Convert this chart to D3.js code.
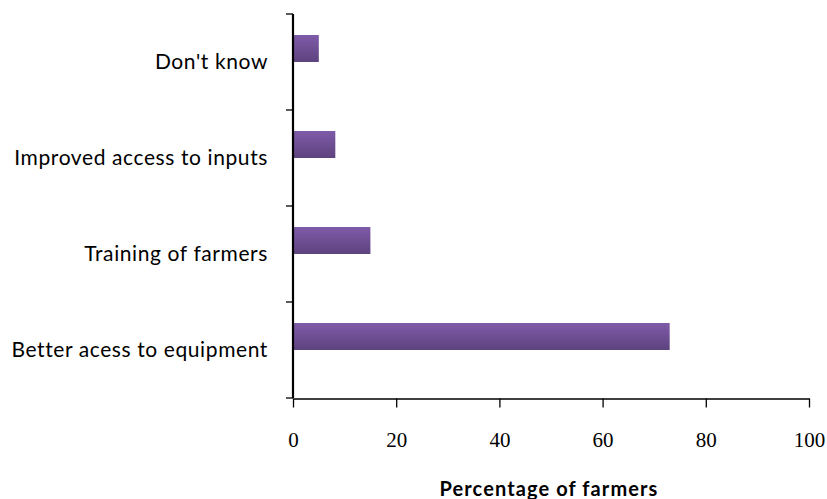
<!DOCTYPE html>
<html><head><meta charset="utf-8">
<script src="https://cdn.jsdelivr.net/npm/d3@7"></script>
<style>body{margin:0;background:#fff}</style>
</head><body>
<svg id="c" width="827" height="499"></svg>
<script>
const categories = ["Don't know", "Improved access to inputs", "Training of farmers", "Better acess to equipment"];
const values = [5, 8.2, 15, 73];
const xTicks = [0, 20, 40, 60, 80, 100];
const xTitle = "Percentage of farmers";

const svg = d3.select("#c");
const m = {left: 293, right: 809, top: 14, bottom: 398};

const defs = svg.append("defs");
const g = defs.append("linearGradient").attr("id","bg").attr("x1",0).attr("x2",0).attr("y1",0).attr("y2",1);
g.append("stop").attr("offset","0%").attr("stop-color","#7f5ba9");
g.append("stop").attr("offset","100%").attr("stop-color","#5d437e");

const x = d3.scaleLinear().domain([0,100]).range([m.left, m.right]);
const y = d3.scaleBand().domain(categories).range([m.top, m.bottom]).padding(0);
const sub = d3.scaleBand().domain(["s1","s2"]).range([0, y.bandwidth()]).paddingInner(0).paddingOuter(0.778);

svg.append("g").selectAll("rect").data(categories).join("rect")
  .attr("x", x(0))
  .attr("y", d => y(d) + sub("s1"))
  .attr("width", (d,i) => x(values[i]) - x(0))
  .attr("height", sub.bandwidth())
  .attr("fill", "url(#bg)");

// x axis
const xa = svg.append("g").attr("transform", `translate(0,${m.bottom+0.5})`)
  .call(d3.axisBottom(x).tickValues(xTicks).tickSize(9).tickSizeOuter(0).tickPadding(25));
xa.select(".domain").attr("stroke","#000").attr("stroke-width",1.5);
xa.selectAll(".tick line").attr("stroke","#000").attr("stroke-width",1.3);
xa.selectAll(".tick text").attr("font-family","'Liberation Serif', serif").attr("font-size",21).attr("fill","#000");

// y axis
const ya = svg.append("g").attr("transform", `translate(${m.left},0)`);
ya.append("line").attr("x1",0).attr("x2",0).attr("y1",m.top).attr("y2",m.bottom).attr("stroke","#000").attr("stroke-width",2.2);
const bounds = categories.map(c => y(c)).concat([m.bottom]);
ya.selectAll("line.t").data(bounds).join("line").attr("class","t")
  .attr("x1",-7).attr("x2",0).attr("y1",d=>d).attr("y2",d=>d).attr("stroke","#000").attr("stroke-width",1.3);
ya.selectAll("text").data(categories).join("text")
  .attr("x", -25).attr("y", d => y(d) + y.bandwidth()/2)
  .attr("dy","0.35em").attr("text-anchor","end")
  .attr("font-family","Lato, sans-serif").attr("font-size",21).attr("letter-spacing",0.6).attr("fill","#000")
  .text(d => d);

svg.append("text").attr("x", (x(0)+x(100))/2 - 2).attr("y", 496)
  .attr("text-anchor","middle").attr("font-family","Lato, sans-serif").attr("font-weight","bold")
  .attr("font-size",20).attr("letter-spacing",1.1).attr("fill","#000").text(xTitle);
</script>
</body></html>
